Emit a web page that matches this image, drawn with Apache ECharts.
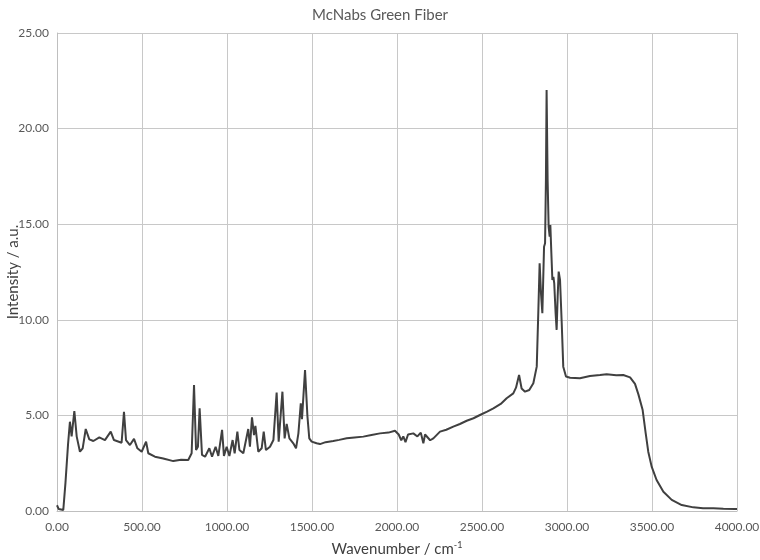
<!DOCTYPE html>
<html>
<head>
<meta charset="utf-8">
<title>McNabs Green Fiber</title>
<script src="https://cdn.jsdelivr.net/npm/echarts@6/dist/echarts.min.js"></script>
<style>
  html, body { margin: 0; padding: 0; background: #fff; }
  #chart { width: 760px; height: 560px; }
</style>
</head>
<body>
<div id="chart"></div>
<script>
// values
const wavenumber = [
  0, 10, 20, 37, 50, 65, 76, 86, 102, 116, 135, 151, 169, 190, 214, 249, 282, 316, 335, 380,
  394, 406, 429, 453, 473, 498, 524, 537, 576, 625, 684, 730, 772, 792, 806, 818, 829, 839, 853, 871,
  896, 912, 933, 949, 971, 982, 998, 1014, 1033, 1045, 1061, 1073, 1096, 1125, 1135, 1147, 1159, 1167, 1184, 1204,
  1216, 1229, 1253, 1273, 1292, 1304, 1312, 1326, 1339, 1351, 1367, 1390, 1406, 1420, 1434, 1441, 1459, 1473, 1484, 1498,
  1527, 1547, 1580, 1625, 1660, 1704, 1750, 1802, 1850, 1900, 1950, 1988, 2010, 2025, 2037, 2050, 2065, 2096, 2120, 2140,
  2155, 2165, 2175, 2195, 2214, 2253, 2290, 2331, 2370, 2410, 2450, 2488, 2530, 2567, 2610, 2645, 2684, 2700, 2718, 2733,
  2753, 2778, 2802, 2822, 2831, 2839, 2847, 2855, 2865, 2871, 2876, 2880, 2886, 2892, 2898, 2902, 2908, 2914, 2920, 2925,
  2933, 2939, 2945, 2951, 2959, 2969, 2978, 2994, 3018, 3076, 3135, 3194, 3233, 3290, 3331, 3371, 3400, 3420, 3445, 3463,
  3478, 3498, 3527, 3567, 3616, 3675, 3743, 3800, 3861, 3920, 3988, 4000
]
const intensity = [
  0.3, 0.1, 0.05, 0.05, 1.5, 3.5, 4.67, 3.9, 5.23, 3.89, 3.1, 3.28, 4.29, 3.75, 3.66, 3.85, 3.71, 4.15, 3.71, 3.57,
  5.19, 3.71, 3.45, 3.77, 3.28, 3.1, 3.63, 3.02, 2.84, 2.75, 2.61, 2.68, 2.67, 3.02, 6.59, 3.19, 3.36, 5.37, 2.93, 2.84,
  3.28, 2.84, 3.36, 2.88, 4.24, 2.88, 3.36, 2.88, 3.71, 3.02, 4.15, 3.19, 3.02, 4.29, 3.36, 4.9, 3.97, 4.45, 3.1, 3.28,
  4.15, 3.19, 3.36, 3.71, 6.19, 3.63, 3.7, 6.24, 3.8, 4.55, 3.8, 3.54, 3.28, 4.06, 5.63, 4.8, 7.37, 4.97, 3.8, 3.63,
  3.54, 3.5, 3.6, 3.66, 3.72, 3.8, 3.85, 3.89, 3.98, 4.06, 4.1, 4.2, 4.0, 3.7, 3.9, 3.6, 4.0, 4.06, 3.9, 4.1,
  3.54, 4.0, 4.06, 3.7, 3.8, 4.15, 4.25, 4.41, 4.55, 4.72, 4.85, 5.02, 5.2, 5.37, 5.6, 5.9, 6.15, 6.45, 7.11, 6.41,
  6.24, 6.33, 6.68, 7.55, 10.34, 12.95, 11.38, 10.34, 13.82, 14.0, 17.3, 22.02, 17.3, 14.87, 14.35, 14.96, 13.48, 12.08, 12.25, 11.9,
  10.34, 9.47, 11.2, 12.52, 12.08, 9.82, 7.55, 7.03, 6.97, 6.94, 7.06, 7.11, 7.15, 7.1, 7.11, 6.99, 6.65, 6.1, 5.28, 4.06,
  3.1, 2.32, 1.62, 1.01, 0.58, 0.31, 0.19, 0.15, 0.14, 0.12, 0.1, 0.1
]

const chart = echarts.init(document.getElementById('chart'))

let points = []
wavenumber.forEach((w, i) => {
  points.push([w, intensity[i]])
})

chart.setOption({
  animation: false,
  title: {
    text: 'McNabs Green Fiber',
    left: 'center',
    top: 3,
    textStyle: {
      fontFamily: 'Lato',
      fontSize: 15,
      fontWeight: 'normal',
      color: '#595959',
    },
  },
  grid: { left: 57, right: 23, top: 33, bottom: 49, outerBoundsMode: 'none', containLabel: false },
  xAxis: {
    type: 'value',
    min: 0,
    max: 4000,
    interval: 500,
    name: 'Wavenumber / cm{sup|-1}',
    nameLocation: 'middle',
    nameGap: 30,
    nameMoveOverlap: false,
    nameTextStyle: {
      fontFamily: 'Lato',
      fontSize: 15,
      color: '#404040',
      rich: {
        sup: { fontFamily: 'Lato', fontSize: 9, color: '#404040', verticalAlign: 'top', padding: [0, 0, 8, 0] },
      },
    },
    axisLine: { lineStyle: { color: '#bfbfbf' } },
    axisTick: { show: false },
    axisLabel: {
      fontFamily: 'Lato',
      fontSize: 12,
      color: '#595959',
      margin: 10,
      formatter: (v) => v.toFixed(2),
    },
    splitLine: { show: true, lineStyle: { color: '#c8c8c8' } },
  },
  yAxis: {
    type: 'value',
    min: 0,
    max: 25,
    interval: 5,
    name: 'Intensity / a.u.',
    nameLocation: 'middle',
    nameGap: 36,
    nameMoveOverlap: false,
    nameTextStyle: { fontFamily: 'Lato', fontSize: 15, color: '#404040' },
    axisLine: { show: true, lineStyle: { color: '#bfbfbf' } },
    axisTick: { show: false },
    axisLabel: {
      fontFamily: 'Lato',
      fontSize: 12,
      color: '#595959',
      margin: 8,
      formatter: (v) => v.toFixed(2),
    },
    splitLine: { show: true, lineStyle: { color: '#c8c8c8' } },
  },
  series: [
    {
      name: 'McNabs Green Fiber',
      type: 'line',
      data: points,
      showSymbol: false,
      lineStyle: { color: '#404040', width: 2 },
    },
  ],
})
</script>
</body>
</html>
